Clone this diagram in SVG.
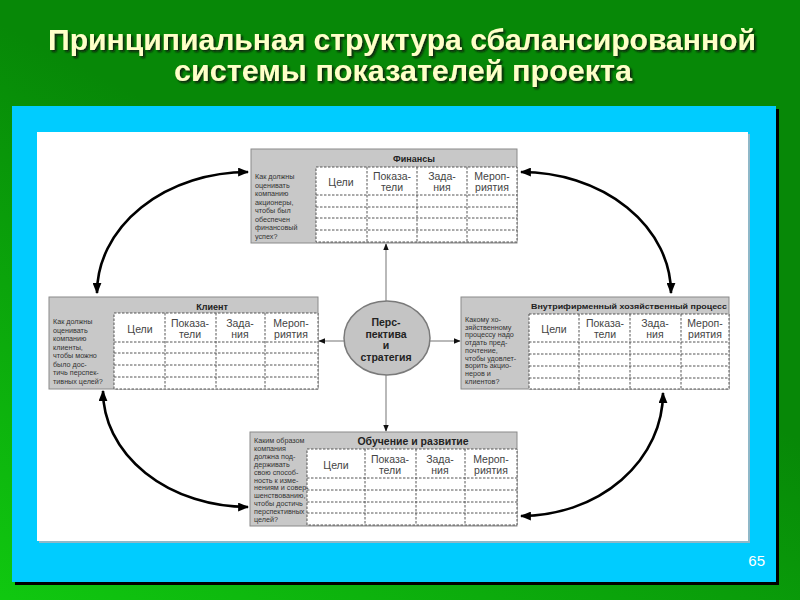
<svg xmlns="http://www.w3.org/2000/svg" width="800" height="600" viewBox="0 0 800 600">
<defs>
<linearGradient id="bg" x1="0" y1="1" x2="0.45" y2="0.35">
<stop offset="0" stop-color="#10c810"/>
<stop offset="1" stop-color="#078807"/>
</linearGradient>
<filter id="sh" x="-5%" y="-20%" width="110%" height="150%">
<feDropShadow dx="2" dy="2" stdDeviation="0.8" flood-color="#111" flood-opacity="0.85"/>
</filter>
<marker id="big" viewBox="0 0 10 8" refX="9" refY="4" markerWidth="11" markerHeight="9" markerUnits="userSpaceOnUse" orient="auto-start-reverse">
<path d="M0,0 L10,4 L0,8 z" fill="#000"/>
</marker>
<marker id="small" viewBox="0 0 10 8" refX="9" refY="4" markerWidth="7" markerHeight="6" markerUnits="userSpaceOnUse" orient="auto">
<path d="M0,0 L10,4 L0,8 z" fill="#111"/>
</marker>
</defs>
<style>
.title{font-family:"Liberation Sans",Arial,sans-serif;font-weight:bold;font-size:29px;fill:#ffffc8;text-anchor:middle}
.box{fill:#c8c8c8;stroke:#8a8a8a;stroke-width:1}
.grid{fill:#fff;stroke:#555;stroke-width:1;stroke-dasharray:2.5 1.5}
.gl{stroke:#555;stroke-width:1;stroke-dasharray:2.5 1.5;fill:none}
.hd{font-family:"Liberation Sans",Arial,sans-serif;font-weight:bold;fill:#222;text-anchor:middle}
.ch{font-family:"Liberation Sans",Arial,sans-serif;font-size:10.5px;fill:#444;text-anchor:middle}
.q{font-family:"Liberation Sans",Arial,sans-serif;font-size:7.2px;fill:#333}
.conn{stroke:#8a8a8a;stroke-width:1.2;fill:none}
.curve{stroke:#000;stroke-width:2.6;fill:none}
.ell{font-family:"Liberation Sans",Arial,sans-serif;font-weight:bold;font-size:10.5px;fill:#222;text-anchor:middle}
</style>
<rect x="0" y="0" width="800" height="600" fill="url(#bg)"/>
<g id="title" filter="url(#sh)">
<text class="title" x="402" y="50" textLength="708" lengthAdjust="spacingAndGlyphs">Принципиальная структура сбалансированной</text>
<text class="title" x="403" y="81" textLength="458" lengthAdjust="spacingAndGlyphs">системы показателей проекта</text>
</g>
<g id="frame">
<rect x="15" y="109" width="764" height="476" fill="#000"/>
<rect x="12" y="106" width="764" height="476" fill="#00ccff"/>
<rect x="39" y="134" width="711" height="409" fill="#8fb8c8"/>
<rect x="37" y="132" width="711" height="409" fill="#fff"/>
<text x="765" y="566" font-family="Liberation Sans,Arial,sans-serif" font-size="15" fill="#fff" text-anchor="end">65</text>
</g>
<g id="connectors">
<line class="conn" x1="386" y1="301" x2="386" y2="244" marker-end="url(#small)"/>
<line class="conn" x1="386" y1="375" x2="386" y2="431" marker-end="url(#small)"/>
<line class="conn" x1="345" y1="341" x2="319" y2="341" marker-end="url(#small)"/>
<line class="conn" x1="429" y1="341" x2="460" y2="341" marker-end="url(#small)"/>
<path class="curve" d="M97 293 A151 121 0 0 1 248 172" marker-start="url(#big)" marker-end="url(#big)"/>
<path class="curve" d="M521 172 A150 121 0 0 1 671 293" marker-start="url(#big)" marker-end="url(#big)"/>
<path class="curve" d="M103 391 A145 116 0 0 0 248 507" marker-start="url(#big)" marker-end="url(#big)"/>
<path class="curve" d="M521 516 A142 123 0 0 0 663 393" marker-start="url(#big)" marker-end="url(#big)"/>
</g>
<g id="finance">
<rect class="box" x="251" y="149" width="266" height="94"/>
<text class="hd" x="414" y="162" font-size="9">Финансы</text>
<rect class="grid" x="316" y="167" width="201" height="75"/>
<path class="gl" d="M367 167V242M417 167V242M467 167V242M316 195H517M316 207H517M316 218H517M316 230H517"/>
<text class="ch" x="341" y="186">Цели</text>
<text class="ch" x="392" y="180">Показа-</text><text class="ch" x="392" y="191">тели</text>
<text class="ch" x="442" y="180">Зада-</text><text class="ch" x="442" y="191">ния</text>
<text class="ch" x="492" y="180">Мероп-</text><text class="ch" x="492" y="191">риятия</text>
<text class="q" x="255"><tspan x="255" y="179">Как должны</tspan><tspan x="255" y="187.5">оценивать</tspan><tspan x="255" y="196">компанию</tspan><tspan x="255" y="204.5">акционеры,</tspan><tspan x="255" y="213">чтобы был</tspan><tspan x="255" y="221.5">обеспечен</tspan><tspan x="255" y="230">финансовый</tspan><tspan x="255" y="238.5">успех?</tspan></text>
</g>
<g id="client">
<rect class="box" x="49" y="297" width="269" height="92"/>
<text class="hd" x="212" y="310" font-size="9">Клиент</text>
<rect class="grid" x="114" y="313" width="204" height="76"/>
<path class="gl" d="M165 313V389M216 313V389M265 313V389M114 342H318M114 353H318M114 365H318M114 377H318"/>
<text class="ch" x="140" y="333">Цели</text>
<text class="ch" x="190" y="327">Показа-</text><text class="ch" x="190" y="338">тели</text>
<text class="ch" x="240" y="327">Зада-</text><text class="ch" x="240" y="338">ния</text>
<text class="ch" x="291" y="327">Мероп-</text><text class="ch" x="291" y="338">риятия</text>
<text class="q" x="53"><tspan x="53" y="324">Как должны</tspan><tspan x="53" y="332.5">оценивать</tspan><tspan x="53" y="341">компанию</tspan><tspan x="53" y="349.5">клиенты,</tspan><tspan x="53" y="358">чтобы можно</tspan><tspan x="53" y="366.5">было дос-</tspan><tspan x="53" y="375">тичь перспек-</tspan><tspan x="53" y="383.5">тивных целей?</tspan></text>
</g>
<g id="internal">
<rect class="box" x="461" y="297" width="268" height="92"/>
<text class="hd" x="629" y="309" font-size="8" textLength="196" lengthAdjust="spacingAndGlyphs">Внутрифирменный хозяйственный процесс</text>
<rect class="grid" x="529" y="314" width="200" height="75"/>
<path class="gl" d="M579 314V389M630 314V389M681 314V389M529 342H729M529 354H729M529 366H729M529 378H729"/>
<text class="ch" x="554" y="333">Цели</text>
<text class="ch" x="605" y="327">Показа-</text><text class="ch" x="605" y="338">тели</text>
<text class="ch" x="655" y="327">Зада-</text><text class="ch" x="655" y="338">ния</text>
<text class="ch" x="705" y="327">Мероп-</text><text class="ch" x="705" y="338">риятия</text>
<text class="q" x="465"><tspan x="465" y="322">Какому хо-</tspan><tspan x="465" y="329.7">зяйственному</tspan><tspan x="465" y="337.4">процессу надо</tspan><tspan x="465" y="345.1">отдать пред-</tspan><tspan x="465" y="352.8">почтение,</tspan><tspan x="465" y="360.5">чтобы удовлет-</tspan><tspan x="465" y="368.2">ворить акцио-</tspan><tspan x="465" y="375.9">неров и</tspan><tspan x="465" y="383.6">клиентов?</tspan></text>
</g>
<g id="learning">
<rect class="box" x="250" y="432" width="267" height="94"/>
<text class="hd" x="413" y="445" font-size="10.5">Обучение и развитие</text>
<rect class="grid" x="307" y="449" width="210" height="76"/>
<path class="gl" d="M365 449V525M416 449V525M465 449V525M307 478H517M307 490H517M307 502H517M307 513H517"/>
<text class="ch" x="336" y="469">Цели</text>
<text class="ch" x="390" y="463">Показа-</text><text class="ch" x="390" y="474">тели</text>
<text class="ch" x="440" y="463">Зада-</text><text class="ch" x="440" y="474">ния</text>
<text class="ch" x="491" y="463">Мероп-</text><text class="ch" x="491" y="474">риятия</text>
<text class="q" x="254" font-size="6.4"><tspan x="254" y="443">Каким образом</tspan><tspan x="254" y="450.9">компания</tspan><tspan x="254" y="458.8">должна под-</tspan><tspan x="254" y="466.7">держивать</tspan><tspan x="254" y="474.6">свою способ-</tspan><tspan x="254" y="482.5">ность к изме-</tspan><tspan x="254" y="490.4">нениям и совер-</tspan><tspan x="254" y="498.3">шенствованию,</tspan><tspan x="254" y="506.2">чтобы достичь</tspan><tspan x="254" y="514.1">перспективных</tspan><tspan x="254" y="522">целей?</tspan></text>
</g>
<g id="perspective">
<ellipse cx="387" cy="338" rx="43" ry="37" fill="#c4c4c4" stroke="#7a7a7a" stroke-width="1.5"/>
<text class="ell"><tspan x="386" y="326">Перс-</tspan><tspan x="386" y="337.5">пектива</tspan><tspan x="386" y="349">и</tspan><tspan x="386" y="360.5">стратегия</tspan></text>
</g>
</svg>
